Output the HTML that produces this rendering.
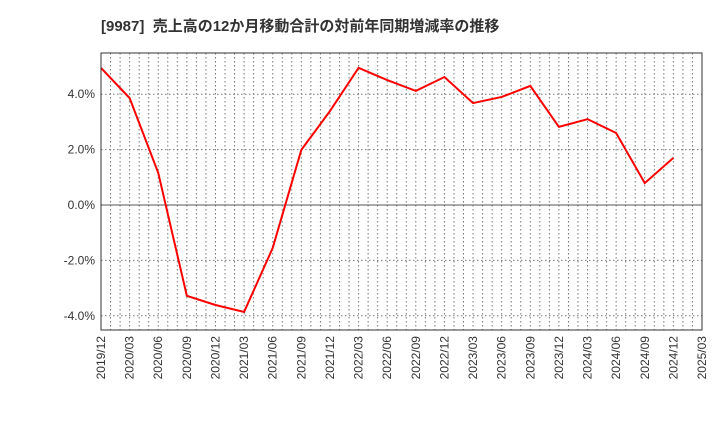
<!DOCTYPE html>
<html><head><meta charset="utf-8"><style>
body{margin:0;background:#fff;}
svg text{font-family:"Liberation Sans","Noto Sans CJK JP",sans-serif;}
</style></head><body>
<svg width="720" height="440" xmlns="http://www.w3.org/2000/svg">
<text x="101" y="31" font-size="15" font-weight="bold" fill="#333">[9987]&#160;&#160;売上高の12か月移動合計の対前年同期増減率の推移</text>
<g id="grid"></g>
<g id="axes"></g>
<polyline id="line" fill="none" stroke="#ff0000" stroke-width="2"/>
<rect x="101" y="53" width="601" height="277" fill="none" stroke="#333" stroke-width="1"/>
</svg>
<script>
const categories=["2019/12","2020/03","2020/06","2020/09","2020/12","2021/03","2021/06","2021/09","2021/12","2022/03","2022/06","2022/09","2022/12","2023/03","2023/06","2023/09","2023/12","2024/03","2024/06","2024/09","2024/12","2025/03"];
const values=[4.95,3.86,1.16,-3.28,-3.61,-3.86,-1.55,1.99,3.39,4.95,4.51,4.12,4.62,3.68,3.90,4.30,2.82,3.10,2.60,0.79,1.70];
const yTicks=[-4,-2,0,2,4];
const yTickLabels=["-4.0%","-2.0%","0.0%","2.0%","4.0%"];
const L=101,R=702,T=53,B=330;
const xs=i=>L+i*(R-L)/(categories.length-1);
const ys=v=>205-v*27.7;
const ns="http://www.w3.org/2000/svg";
const grid=document.getElementById('grid'),axes=document.getElementById('axes');
function mk(tag,attrs,parent){const e=document.createElementNS(ns,tag);for(const k in attrs)e.setAttribute(k,attrs[k]);parent.appendChild(e);return e;}
const nMonths=(categories.length-1)*3;
for(let m=1;m<nMonths;m++){const x=L+m*(R-L)/nMonths;
const l=mk('line',{x1:x,x2:x,y1:T,y2:B,stroke:'#777','stroke-width':1,'stroke-dasharray':'1.5,2.5'},grid);

}
yTicks.forEach((v,i)=>{const y=ys(v);
const l=mk('line',{x1:L,x2:R,y1:y,y2:y,stroke:v===0?'#555':'#777','stroke-width':1,'stroke-dasharray':v===0?'':'1.5,2.5'},grid);


const t=mk('text',{x:L-6,y:y+4,'text-anchor':'end','font-size':12,fill:'#333'},axes);t.textContent=yTickLabels[i];

});
categories.forEach((c,i)=>{const x=xs(i);
const t=mk('text',{x:0,y:0,'text-anchor':'end','font-size':12,fill:'#333',transform:`translate(${x+4},${B+6}) rotate(-90)`},axes);t.textContent=c;

});
document.getElementById('line').setAttribute('points',values.map((v,i)=>xs(i)+','+ys(v)).join(' '));
</script>
</body></html>
